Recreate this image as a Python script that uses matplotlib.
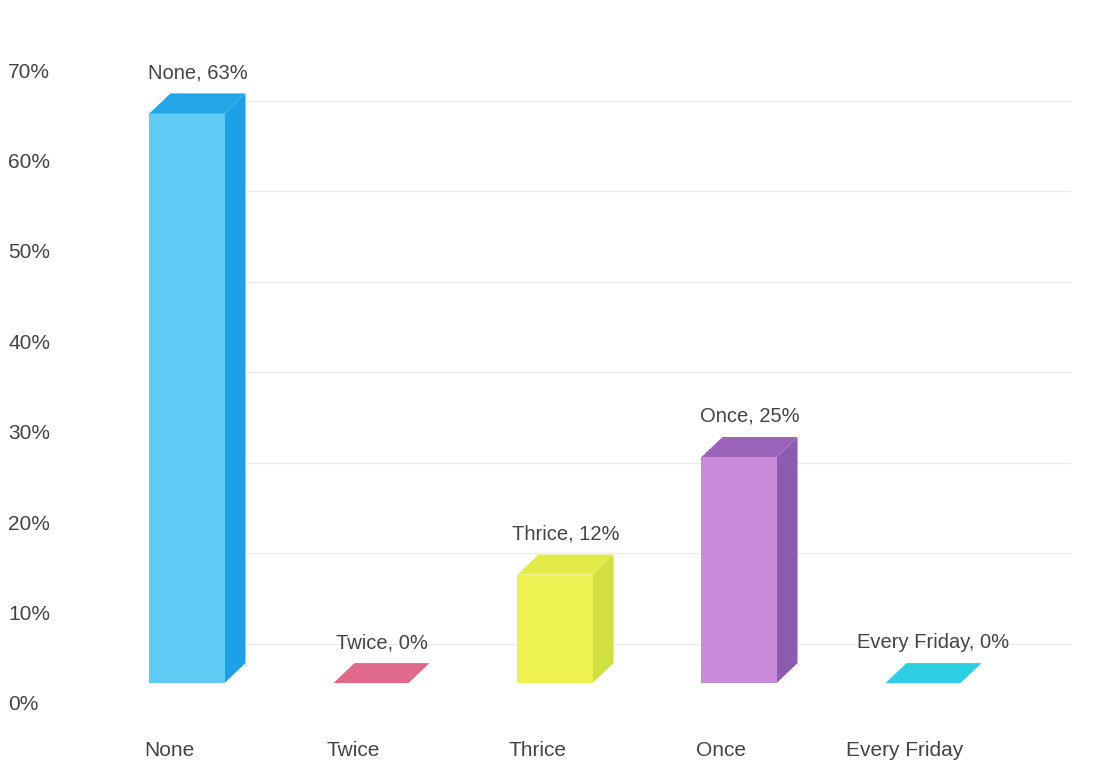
import matplotlib
matplotlib.use("Agg")
import matplotlib.pyplot as plt
import matplotlib.transforms as mtransforms
from matplotlib.patches import Polygon
import numpy as np

# ---- data ----
categories = ["None", "Twice", "Thrice", "Once", "Every Friday"]
values = [63, 0, 12, 25, 0]
ytick_values = [0, 10, 20, 30, 40, 50, 60, 70]
ytick_labels = ["0%", "10%", "20%", "30%", "40%", "50%", "60%", "70%"]

# ---- style ----
front_colors = ["#5ecbf5", "#e0688a", "#eef250", "#c98ad9", "#2dcfe2"]
side_colors = ["#1ea0e6", "#c8506f", "#cfe040", "#8c5caf", "#1cb5c8"]
top_colors = ["#22a6e8", "#e0688a", "#e2ea48", "#9a62b9", "#2dcfe2"]
text_color = "#444444"

plt.rcParams['font.family'] = ['Liberation Sans', 'DejaVu Sans']

W, H = 1106, 764
fig = plt.figure(figsize=(W / 100, H / 100), dpi=100)
fig.patch.set_facecolor("white")
ax = fig.add_axes([60 / W, 61 / H, 1020 / W, 633 / H])
ax.set_xlim(-0.690, 4.853)
ax.set_ylim(0, 70)

x = np.arange(len(categories))
width = 0.408
dx, dy = 0.114, 2.21
floor = 2.2

# faint back-wall gridlines (shifted down, as in the 3D reference)
grid_off = mtransforms.offset_copy(ax.transData, fig=fig, x=0, y=-31 * 0.72, units='points')
for v in ytick_values[1:]:
    ax.plot([0.31, 4.8], [v, v], color="#ebebeb", lw=1.0, transform=grid_off, zorder=0)

# front faces
ax.bar(x, values, width=width, bottom=floor, color=front_colors, zorder=3, linewidth=0)

# side and top faces
for xi, v, sc, tc in zip(x, values, side_colors, top_colors):
    xl, xr = xi - width / 2, xi + width / 2
    top = floor + v
    if v > 0:
        side = Polygon([(xr, floor), (xr + dx, floor + dy), (xr + dx, top + dy), (xr, top)],
                       closed=True, facecolor=sc, edgecolor="none", zorder=2)
        ax.add_patch(side)
    topf = Polygon([(xl, top), (xr, top), (xr + dx, top + dy), (xl + dx, top + dy)],
                   closed=True, facecolor=tc, edgecolor="none", zorder=4)
    ax.add_patch(topf)

# value labels
for xi, v, cat in zip(x, values, categories):
    ax.annotate(f"{cat}, {v}%", xy=(xi + dx / 2, floor + v + dy), xytext=(0, 8),
                textcoords="offset points", ha="center", va="bottom",
                fontsize=14.5, color=text_color, annotation_clip=False)

# axes styling
for s in ax.spines.values():
    s.set_visible(False)
ax.set_yticks(ytick_values)
ax.set_yticklabels(ytick_labels)
ax.tick_params(axis='y', length=0, pad=37.4, labelsize=15, labelcolor=text_color)
for lbl in ax.get_yticklabels():
    lbl.set_ha("left")

ax.set_xticks(x)
ax.set_xticklabels(categories)
ax.tick_params(axis='x', length=0, pad=27, labelsize=15, labelcolor=text_color)
shift = mtransforms.ScaledTranslation(-18 / 100, 0, fig.dpi_scale_trans)
for lbl in ax.get_xticklabels():
    lbl.set_transform(lbl.get_transform() + shift)

fig.savefig("out.png", dpi=100, facecolor="white")
